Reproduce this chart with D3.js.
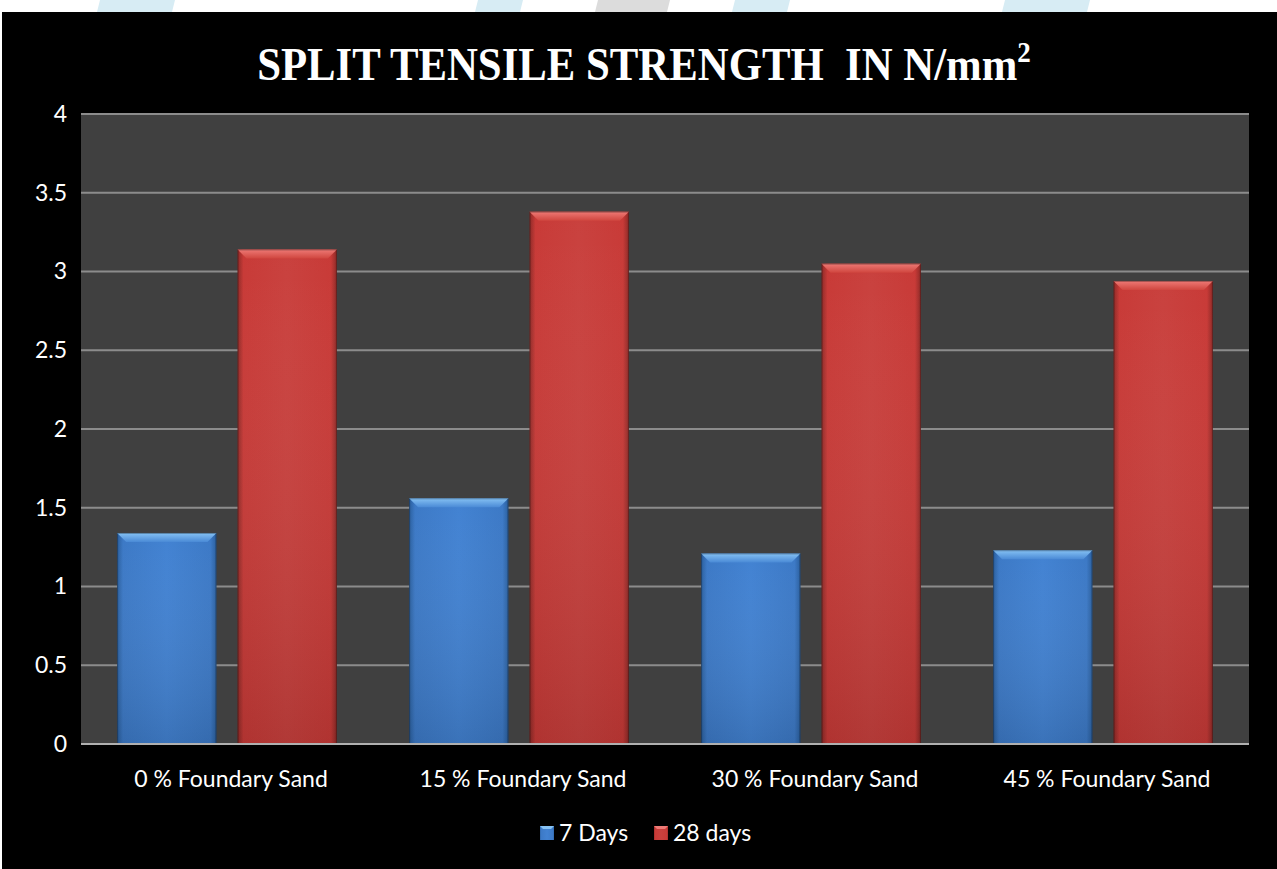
<!DOCTYPE html>
<html>
<head>
<meta charset="utf-8">
<script src="https://cdn.jsdelivr.net/npm/d3@7"></script>
<style>
  html, body { margin: 0; padding: 0; background: #ffffff; }
  svg { display: block; }
</style>
</head>
<body>
<svg id="chart" width="1277" height="869"></svg>
<script>
// Split tensile strength (N/mm²) at 7 and 28 days
const categories = ["0 % Foundary Sand", "15 % Foundary Sand", "30 % Foundary Sand", "45 % Foundary Sand"];
const seriesNames = ["7 Days", "28 days"];
const days7 = [1.34, 1.56, 1.21, 1.23];
const days28 = [3.14, 3.38, 3.05, 2.94];
const yTicks = [0, 0.5, 1, 1.5, 2, 2.5, 3, 3.5, 4];

const W = 1277, H = 869;
const svg = d3.select("#chart");
const defs = svg.append("defs");

// page strip with faint banner shapes above the chart
svg.append("rect").attr("x", 0).attr("y", 0).attr("width", W).attr("height", H).attr("fill", "#ffffff");
const banner = [
  {x: 100, w: 75, c: "#d7ecf4"}, {x: 478, w: 45, c: "#d7ecf4"},
  {x: 598, w: 72, c: "#dcdcdc"}, {x: 735, w: 55, c: "#d7ecf4"},
  {x: 1005, w: 85, c: "#d7ecf4"}
];
svg.selectAll("path.banner").data(banner).join("path")
  .attr("class", "banner")
  .attr("d", d => `M${d.x},0 L${d.x + d.w},0 L${d.x + d.w - 3},12 L${d.x - 3},12 Z`)
  .attr("fill", d => d.c);

// black chart frame
svg.append("rect").attr("x", 2).attr("y", 12).attr("width", W - 2).attr("height", H - 12).attr("fill", "#000000");

const margin = {left: 81, right: 28, top: 114, bottom: 125};
const plotW = W - margin.left - margin.right;   // 1168
const plotH = H - margin.top - margin.bottom;   // 630

const x0 = d3.scaleBand().domain(categories).range([margin.left, margin.left + plotW]).paddingInner(0).paddingOuter(0);
const x1 = d3.scaleBand().domain(seriesNames).range([0, x0.bandwidth()]).paddingInner(0.175).paddingOuter(0.3);
const y = d3.scaleLinear().domain([0, 4]).range([margin.top + plotH, margin.top]);

// plot background
svg.append("rect")
  .attr("x", margin.left).attr("y", margin.top)
  .attr("width", plotW).attr("height", plotH)
  .attr("fill", "#404040");

// gridlines
svg.append("g")
  .selectAll("line").data(yTicks.filter(t => t > 0)).join("line")
  .attr("x1", margin.left).attr("x2", margin.left + plotW)
  .attr("y1", d => y(d)).attr("y2", d => y(d))
  .attr("stroke", "#8c8c8c").attr("stroke-width", 2);

// bar gradients
function barGradient(id, edge, mid, light) {
  const g = defs.append("linearGradient").attr("id", id).attr("x1", "0").attr("x2", "1").attr("y1", "0").attr("y2", "0");
  g.append("stop").attr("offset", "0").attr("stop-color", edge);
  g.append("stop").attr("offset", "0.06").attr("stop-color", mid);
  g.append("stop").attr("offset", "0.5").attr("stop-color", light);
  g.append("stop").attr("offset", "0.94").attr("stop-color", mid);
  g.append("stop").attr("offset", "1").attr("stop-color", edge);
  const v = defs.append("linearGradient").attr("id", id + "-v").attr("x1", "0").attr("x2", "0").attr("y1", "0").attr("y2", "1");
  v.append("stop").attr("offset", "0").attr("stop-color", "#ffffff").attr("stop-opacity", 0);
  v.append("stop").attr("offset", "1").attr("stop-color", "#000000").attr("stop-opacity", 0.12);
}
barGradient("g-blue", "#2a5f9e", "#3c79c6", "#4282d2");
barGradient("g-red", "#8e2a27", "#c83a37", "#c9413e");

// top bevel gradient: light at the top edge fading into the face
function bevelGradient(id, light, face) {
  const g = defs.append("linearGradient").attr("id", id).attr("x1", "0").attr("x2", "0").attr("y1", "0").attr("y2", "1");
  g.append("stop").attr("offset", "0").attr("stop-color", light);
  g.append("stop").attr("offset", "1").attr("stop-color", face);
}
bevelGradient("b-blue", "#86c2f4", "#4a8ad6");
bevelGradient("b-red", "#ee7a76", "#d0463f");

const colors = {
  "7 Days": {grad: "url(#g-blue)", shade: "url(#g-blue-v)", top: "url(#b-blue)"},
  "28 days": {grad: "url(#g-red)", shade: "url(#g-red-v)", top: "url(#b-red)"}
};

const rows = [];
categories.forEach((c, i) => {
  rows.push({cat: c, series: "7 Days", value: days7[i]});
  rows.push({cat: c, series: "28 days", value: days28[i]});
});

const bars = svg.append("g").selectAll("g.bar").data(rows).join("g").attr("class", "bar");

bars.append("rect")
  .attr("x", d => x0(d.cat) + x1(d.series))
  .attr("y", d => y(d.value))
  .attr("width", x1.bandwidth())
  .attr("height", d => y(0) - y(d.value))
  .attr("fill", d => colors[d.series].grad);

bars.append("rect")
  .attr("x", d => x0(d.cat) + x1(d.series))
  .attr("y", d => y(d.value))
  .attr("width", x1.bandwidth())
  .attr("height", d => y(0) - y(d.value))
  .attr("fill", d => colors[d.series].shade);

// bevelled top edge
bars.append("path")
  .attr("d", d => {
    const bx = x0(d.cat) + x1(d.series), bw = x1.bandwidth(), by = y(d.value), b = 9;
    return `M${bx},${by} L${bx + bw},${by} L${bx + bw - b},${by + b} L${bx + b},${by + b} Z`;
  })
  .attr("fill", d => colors[d.series].top);

// dark outline
bars.append("rect")
  .attr("x", d => x0(d.cat) + x1(d.series) + 0.5)
  .attr("y", d => y(d.value) + 0.5)
  .attr("width", x1.bandwidth() - 1)
  .attr("height", d => y(0) - y(d.value) - 1)
  .attr("fill", "none")
  .attr("stroke", "#000000").attr("stroke-opacity", 0.3).attr("stroke-width", 1);

// category axis line
svg.append("line")
  .attr("x1", margin.left).attr("x2", margin.left + plotW)
  .attr("y1", y(0)).attr("y2", y(0))
  .attr("stroke", "#b0b0b0").attr("stroke-width", 2);

const labelFont = "Lato, 'Open Sans', 'DejaVu Sans', sans-serif";
const labelSize = 23;

// value axis
const yAxis = svg.append("g")
  .attr("transform", `translate(${margin.left},0)`)
  .call(d3.axisLeft(y).tickValues(yTicks).tickFormat(d3.format("~g")).tickSize(0).tickPadding(14));
yAxis.select(".domain").remove();
yAxis.selectAll("text").attr("fill", "#ffffff").attr("font-size", labelSize).attr("font-family", labelFont);

// category axis
const xAxis = svg.append("g")
  .attr("transform", `translate(4,${y(0)})`)
  .call(d3.axisBottom(x0).tickSize(0).tickPadding(27));
xAxis.select(".domain").remove();
xAxis.selectAll("text").attr("fill", "#ffffff").attr("font-size", labelSize).attr("font-family", labelFont);

// title (condensed serif)
const title = svg.append("text")
  .attr("transform", "translate(644,80) scale(0.93,1)")
  .attr("text-anchor", "middle")
  .attr("fill", "#ffffff")
  .attr("font-family", "'Liberation Serif', 'Times New Roman', serif")
  .attr("font-weight", "bold")
  .attr("font-size", 46)
  .style("white-space", "pre");
title.append("tspan").text("SPLIT TENSILE STRENGTH  IN N/mm");
title.append("tspan").attr("font-size", 29).attr("dy", -18).text("2");

// legend
const legendItems = [
  {name: "7 Days", x: 540, fill: "url(#g-blue)", top: "#86c2f4"},
  {name: "28 days", x: 654, fill: "url(#g-red)", top: "#ee7a76"}
];
const lg = svg.append("g").selectAll("g").data(legendItems).join("g")
  .attr("transform", d => `translate(${d.x},826)`);
lg.append("rect").attr("width", 14).attr("height", 14).attr("fill", d => d.fill);
lg.append("path").attr("d", "M0,0 L14,0 L11,3 L3,3 Z").attr("fill", d => d.top);
lg.append("text")
  .attr("x", 19).attr("y", 15)
  .attr("fill", "#ffffff").attr("font-size", labelSize).attr("font-family", labelFont)
  .text(d => d.name);
</script>
</body>
</html>
